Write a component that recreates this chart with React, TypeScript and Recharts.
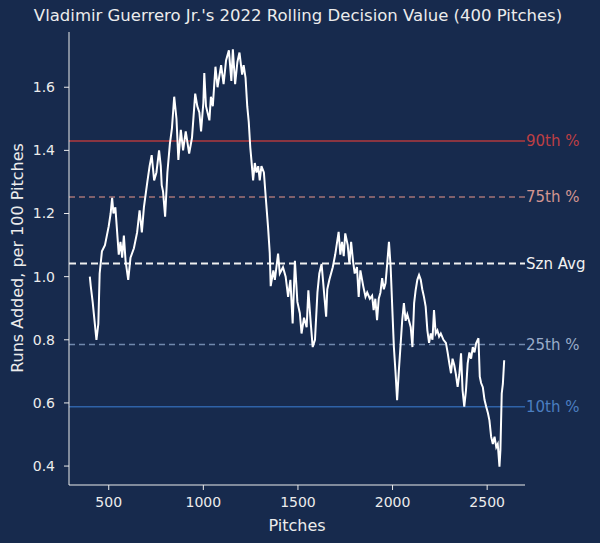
import { Line, LineChart, ReferenceLine, XAxis, YAxis } from 'recharts';

// rolling decision value
const pitches = [
  400, 405, 415, 425, 435, 445, 452, 464, 480, 500,
  510, 518, 525, 535, 553, 562, 571, 580, 589, 603,
  615, 633, 650, 663, 675, 686, 704, 716, 727, 740,
  752, 766, 775, 780, 787, 798, 810, 823, 834, 846,
  858, 868, 881, 893, 907, 925, 940, 957, 968, 979,
  988, 1000, 1005, 1014, 1032, 1040, 1050, 1064, 1075, 1094,
  1107, 1120, 1135, 1148, 1156, 1168, 1180, 1191, 1205, 1213,
  1223, 1232, 1240, 1248, 1254, 1263, 1272, 1281, 1290, 1298,
  1307, 1320, 1330, 1342, 1351, 1356, 1370, 1378, 1395, 1404,
  1421, 1435, 1448, 1460, 1472, 1484, 1497, 1510, 1519, 1532,
  1546, 1555, 1568, 1578, 1590, 1603, 1613, 1625, 1635, 1649,
  1655, 1666, 1684, 1697, 1715, 1724, 1733, 1742, 1750, 1763,
  1772, 1781, 1791, 1800, 1812, 1821, 1830, 1845, 1857, 1866,
  1880, 1892, 1900, 1909, 1918, 1927, 1936, 1945, 1954, 1963,
  1972, 1981, 1990, 1999, 2007, 2016, 2024, 2033, 2042, 2051,
  2060, 2069, 2078, 2087, 2096, 2105, 2114, 2122, 2131, 2140,
  2149, 2157, 2166, 2175, 2184, 2193, 2202, 2211, 2219, 2228,
  2237, 2246, 2255, 2269, 2282, 2291, 2300, 2309, 2317, 2326,
  2335, 2344, 2353, 2362, 2370, 2379, 2388, 2397, 2406, 2415,
  2424, 2433, 2442, 2454, 2461, 2468, 2477, 2486, 2495, 2504,
  2512, 2521, 2530, 2539, 2548, 2556, 2565, 2570, 2577, 2583,
  2590,
];

const runsAdded = [
  1.0, 0.97, 0.92, 0.86, 0.8, 0.85, 1.01, 1.08, 1.1, 1.16,
  1.2, 1.25, 1.2, 1.22, 1.07, 1.11, 1.06, 1.13, 1.05, 0.99,
  1.06, 1.09, 1.14, 1.21, 1.14, 1.22, 1.3, 1.35, 1.385, 1.305,
  1.33, 1.4, 1.35, 1.29, 1.27, 1.19, 1.33, 1.42, 1.47, 1.57,
  1.5, 1.37, 1.465, 1.4, 1.46, 1.39, 1.44, 1.58, 1.54, 1.52,
  1.46, 1.55, 1.645, 1.54, 1.495, 1.57, 1.54, 1.665, 1.6, 1.67,
  1.61, 1.685, 1.717, 1.62, 1.72, 1.61, 1.68, 1.71, 1.64, 1.67,
  1.63, 1.54, 1.49, 1.41, 1.37, 1.305, 1.36, 1.33, 1.35, 1.305,
  1.35, 1.33, 1.25, 1.157, 1.074, 0.97, 1.02, 0.99, 1.073, 1.01,
  1.03, 1.0, 0.936, 0.99, 0.852, 1.05, 0.92, 0.884, 0.82, 0.87,
  0.84, 0.957, 0.85, 0.777, 0.8, 0.95, 1.01, 1.04, 0.97, 0.873,
  0.96, 0.99, 1.03, 1.07, 1.142, 1.07, 1.11, 1.065, 1.137, 1.1,
  1.04, 1.11, 1.05, 1.01, 1.03, 0.936, 1.02, 0.97, 0.936, 0.95,
  0.93, 0.94, 0.894, 0.93, 0.862, 0.93, 0.95, 0.995, 0.96, 0.98,
  1.043, 1.11, 1.03, 0.894, 0.777, 0.694, 0.609, 0.7, 0.78, 0.862,
  0.916, 0.86, 0.88, 0.86, 0.84, 0.777, 0.916, 0.957, 0.99, 1.005,
  0.99, 0.96, 0.936, 0.905, 0.83, 0.79, 0.82, 0.8, 0.894, 0.82,
  0.83, 0.81, 0.82, 0.8, 0.79, 0.76, 0.725, 0.694, 0.74, 0.72,
  0.69, 0.651, 0.69, 0.757, 0.64, 0.588, 0.64, 0.725, 0.76, 0.74,
  0.777, 0.76, 0.79, 0.805, 0.683, 0.663, 0.65, 0.61, 0.588, 0.568,
  0.545, 0.493, 0.47, 0.493, 0.46, 0.47, 0.398, 0.45, 0.63, 0.66,
  0.735,
];

const xTicks = [500, 1000, 1500, 2000, 2500];
const yTicks = [0.4, 0.6, 0.8, 1.0, 1.2, 1.4, 1.6];

// benchmark lines
const refNames = ['90th %', '75th %', 'Szn Avg', '25th %', '10th %'];
const refValues = [1.43, 1.252, 1.042, 0.785, 0.588];
const refLineColors = ['#b23a3e', '#a57477', '#f0f0f0', '#7088ad', '#2f62a8'];
const refTextColors = ['#bd3f44', '#d29591', '#f2f2f2', '#9aacc9', '#4b7ec0'];
const refDash = ['', '6 4', '7 4', '6 4', ''];
const refWidth = [1.5, 1.5, 2, 1.5, 1.5];

const data = pitches.map((p, i) => ({ pitch: p, value: runsAdded[i] }));

const BG = '#172a4d';
const FG = '#ececec';
const FONT = '"DejaVu Sans", sans-serif';

export default function App() {
  return (
    <div
      style={{
        position: 'fixed',
        left: 0,
        top: 0,
        width: 600,
        height: 543,
        background: BG,
        fontFamily: FONT,
      }}
    >
      <div
        style={{
          position: 'absolute',
          top: 6,
          left: 0,
          width: 596,
          textAlign: 'center',
          color: FG,
          fontSize: 16.5,
        }}
      >
        Vladimir Guerrero Jr.'s 2022 Rolling Decision Value (400 Pitches)
      </div>
      <LineChart
        width={600}
        height={543}
        data={data}
        margin={{ top: 32, right: 75, bottom: 0, left: 0 }}
        style={{ fontFamily: FONT }}
      >
        <XAxis
          dataKey="pitch"
          type="number"
          domain={[290, 2700]}
          ticks={xTicks}
          height={58}
          stroke={FG}
          tickSize={5}
          tickMargin={7}
          tick={{ fill: FG, fontSize: 14 }}
          label={{ value: 'Pitches', position: 'insideBottom', offset: 12, fill: FG, fontSize: 16 }}
        />
        <YAxis
          type="number"
          domain={[0.34, 1.775]}
          ticks={yTicks}
          width={69}
          stroke={FG}
          tickSize={5}
          tickMargin={9}
          tick={{ fill: FG, fontSize: 14 }}
          tickFormatter={(v: number) => v.toFixed(1)}
          label={{
            content: () => (
              <text
                x={17}
                y={258}
                transform="rotate(-90 17 258)"
                textAnchor="middle"
                dominantBaseline="central"
                fill={FG}
                fontSize={16}
              >
                Runs Added, per 100 Pitches
              </text>
            ),
          }}
        />
        {refValues.map((v, i) => (
          <ReferenceLine
            key={refNames[i]}
            y={v}
            stroke={refLineColors[i]}
            strokeWidth={refWidth[i]}
            strokeDasharray={refDash[i] || undefined}
            label={{
              value: refNames[i],
              position: 'right',
              offset: 1,
              fill: refTextColors[i],
              fontSize: 15,
            }}
          />
        ))}
        <Line
          type="linear"
          dataKey="value"
          stroke="#ffffff"
          strokeWidth={2}
          dot={false}
          isAnimationActive={false}
        />
      </LineChart>
    </div>
  );
}
